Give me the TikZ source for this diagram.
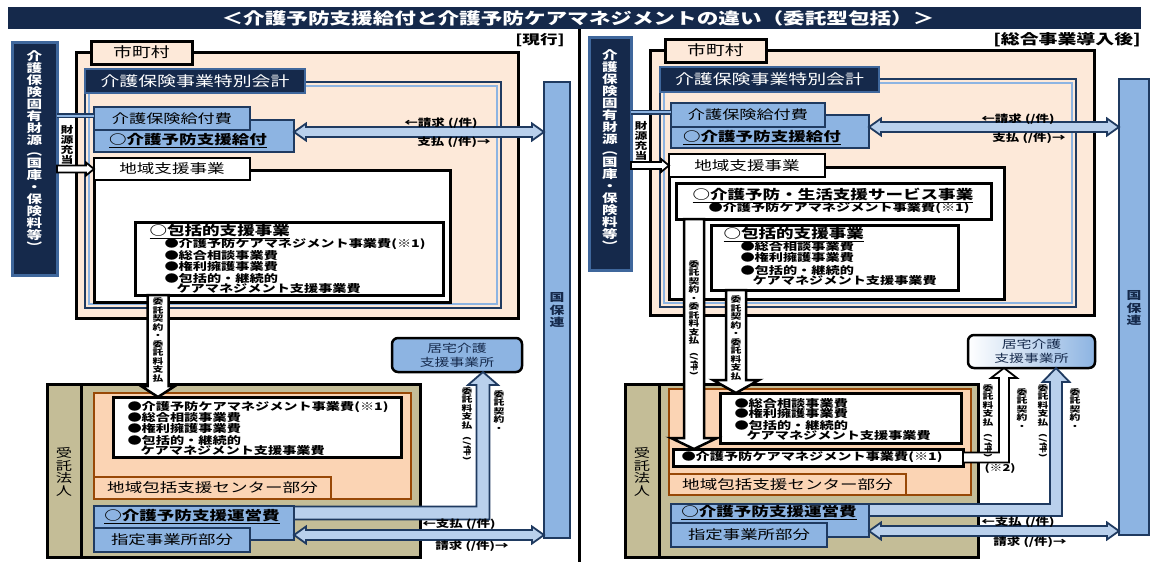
\documentclass[tikz,border=0pt]{standalone}
\usepackage{fontspec}
\setmainfont[FakeStretch=1.35]{Noto Sans CJK JP}
\usepackage{graphicx}
\usetikzlibrary{calc}
\definecolor{navy}{HTML}{15294B}
\definecolor{bnavy}{HTML}{1F3A60}
\definecolor{mblue}{HTML}{3F679C}
\definecolor{lblue}{HTML}{8DB4E2}
\definecolor{llblue}{HTML}{B9D0EC}
\definecolor{peach}{HTML}{FDE9D9}
\definecolor{tanc}{HTML}{C4BD97}
\definecolor{orB}{HTML}{984806}
\definecolor{orF}{HTML}{FBD4B4}
\newcommand\fs[1]{\fontsize{#1}{#1}\selectfont}
\newcommand\fv[2]{\fontsize{#1}{#2}\selectfont}
\newcommand\BX[7]{\node[#6, minimum width={#4-#2}, minimum height={#5-#3}] (#1) at ({(#2+#4)/2},{(#3+#5)/2}) {#7};}
% double-headed horizontal block arrow
\newcommand\myDbl[6]{\filldraw[#6] let \p1=(#1), \p2=(#2) in
 (\x1,\y1) -- (\x1+#5,\y1+#4) -- (\x1+#5,\y1+#3) -- (\x2-#5,\y1+#3) -- (\x2-#5,\y1+#4) -- (\x2,\y1)
 -- (\x2-#5,\y1-#4) -- (\x2-#5,\y1-#3) -- (\x1+#5,\y1-#3) -- (\x1+#5,\y1-#4) -- cycle;}
% single right block arrow
\newcommand\myH[6]{\filldraw[#6] let \p1=(#1), \p2=(#2) in
 (\x1,\y1+#3) -- (\x2-#5,\y1+#3) -- (\x2-#5,\y1+#4) -- (\x2,\y1) -- (\x2-#5,\y1-#4) -- (\x2-#5,\y1-#3) -- (\x1,\y1-#3) -- cycle;}
% down block arrow
\newcommand\myDown[6]{\filldraw[#6] let \p1=(#1), \p2=(#2) in
 (\x1-#3,\y1) -- (\x1-#3,\y2+#5) -- (\x1-#4,\y2+#5) -- (\x1,\y2) -- (\x1+#4,\y2+#5) -- (\x1+#3,\y2+#5) -- (\x1+#3,\y1) -- cycle;}
% elbow block arrow: right then up
\newcommand\myElbow[6]{\filldraw[#6] let \p1=(#1), \p2=(#2) in
 (\x1,\y1+#3) -- (\x2-#3,\y1+#3) -- (\x2-#3,\y2-#5) -- (\x2-#4,\y2-#5) -- (\x2,\y2) -- (\x2+#4,\y2-#5)
 -- (\x2+#3,\y2-#5) -- (\x2+#3,\y1-#3) -- (\x1,\y1-#3) -- cycle;}
\begin{document}
\begin{tikzpicture}[x=1pt,y=-1pt,
  bx/.style={inner sep=0pt, outer sep=0pt},
  frm/.style={bx, draw=black, line width=3pt},
  bluebox/.style={bx, draw=bnavy, fill=lblue, line width=2.5pt},
  navylab/.style={bx, fill=navy, draw=mblue, line width=2.5pt, text=white, font=\fs{14}},
  orbox/.style={bx, fill=orF, draw=orB, line width=2.5pt},
  arrowblue/.style={draw=bnavy, fill=llblue, line width=1.8pt, line join=miter},
  arrowblack/.style={draw=black, fill=white, line width=1.8pt, line join=miter},
  linkline/.style={draw=bnavy, double=lblue, double distance=2pt, line width=1.5pt},
  hdr/.style={anchor=west, font=\bfseries\fs{13}},
  bul/.style={anchor=west, font=\bfseries\fs{10.5}},
  vsm/.style={font=\bfseries\fv{8}{8.5}, align=center},
  lab/.style={font=\bfseries\fs{10}},
]
\useasboundingbox (0,0) rectangle (1152,562);
% ---------- title ----------
\BX{title}{8}{7}{1141}{29}{bx, fill=navy}{}
\node[font=\bfseries\fs{16}, text=white] (titletxt) at (578,18.5) {＜介護予防支援給付と介護予防ケアマネジメントの違い（委託型包括）＞};
\coordinate (divtop) at (579,29);
\coordinate (divbot) at (579,562);
\draw[line width=3pt] (divtop) -- (divbot);
\node[font=\bfseries\fs{13}] (genko) at (540,40) {[現行]};
\node[font=\bfseries\fs{14}] (dounyu) at (1067,40) {[総合事業導入後]};

% =================== LEFT ===================
\BX{shiL}{76}{52}{518}{318}{frm, fill=peach}{}
\BX{tokuL}{85}{82}{501}{308}{bx, draw=bnavy, line width=2.5pt}{}
\draw[lblue, line width=1.2pt] ([shift={(4pt,-4pt)}]tokuL.north west) rectangle ([shift={(-4pt,4pt)}]tokuL.south east);
\BX{tokulabL}{85}{69}{305}{93}{navylab}{介護保険事業特別会計}
\BX{shilabL}{91}{41}{192}{64}{frm, fill=peach, font=\fs{14}}{市町村}
\BX{chiikiL}{94}{170}{450}{302}{frm, fill=white}{}
\BX{chiikilabL}{94}{158}{250}{180}{frm, fill=white, line width=2.5pt, font=\fs{13}}{地域支援事業}
\BX{kyufuL}{94}{120}{294}{152}{bluebox}{}
\node[font=\bfseries\fs{13}] (kyufutxtL) at (188,141) {\underline{○介護予防支援給付}};
\BX{kyufuhiL}{94}{107}{250}{130}{bluebox, font=\fs{12.7}}{介護保険給付費}
\BX{hokatsuL}{135}{222}{443}{295}{frm, fill=white}{}
\node[hdr] (hkhL) at (146,232) {\underline{○包括的支援事業}};
\node[bul] (hkb1L) at (161,244) {●介護予防ケアマネジメント事業費(※1)};
\node[bul] (hkb2L) at (161,256) {●総合相談事業費};
\node[bul] (hkb3L) at (161,267) {●権利擁護事業費};
\node[bul] (hkb4L) at (161,278) {●包括的・継続的};
\node[bul] (hkb5L) at (173,289) {ケアマネジメント支援事業費};
\BX{kokuhoL}{544}{82}{570}{538}{bluebox}{}
\node[font=\bfseries\fv{11}{12.5}, align=center, text=navy] (kokuhotxtL) at (557,310) {国\\保\\連};
\BX{fundL}{12}{42}{57}{275}{bx, fill=navy, draw=mblue, line width=3pt}{}
\node[font=\bfseries\fv{11.5}{11.9}, align=center, text=white] (fundtxtL) at (34.5,151) {介\\護\\保\\険\\固\\有\\財\\源\\︵\\国\\庫\\・\\保\\険\\料\\等\\︶};
\node[font=\bfseries\fv{9.5}{10}, align=center] (zaigenL) at (67,145) {財\\源\\充\\当};

\BX{jutakuL}{47}{384}{420}{557}{frm, fill=tanc}{}
\draw[line width=3pt] ([xshift=34pt]jutakuL.north west) -- ([xshift=34pt]jutakuL.south west);
\node[font=\fv{12}{12.5}, align=center] (jutakutxtL) at (64,472) {受\\託\\法\\人};
\BX{centerL}{94}{393}{411}{499}{orbox}{}
\BX{centerlabL}{94}{477}{331}{499}{orbox, font=\fs{13}}{地域包括支援センター部分}
\BX{innerL}{113}{397}{401}{457}{frm, fill=white}{}
\node[bul] (inb1L) at (124,407) {●介護予防ケアマネジメント事業費(※1)};
\node[bul] (inb2L) at (124,418) {●総合相談事業費};
\node[bul] (inb3L) at (124,429) {●権利擁護事業費};
\node[bul] (inb4L) at (124,440) {●包括的・継続的};
\node[bul] (inb5L) at (137,451) {ケアマネジメント支援事業費};
\BX{uneiL}{94}{506}{294}{540}{bluebox}{}
\node[font=\bfseries\fs{13}] (uneitxtL) at (192,517) {\underline{○介護予防支援運営費}};
\BX{shiteiL}{94}{528}{250}{552}{bluebox, font=\fs{12.9}}{指定事業所部分}
\BX{kyotakuL}{392}{338}{522}{372}{bx, fill=lblue, draw=black, line width=2.5pt, rounded corners=6pt, align=center, font=\fv{11}{14}, text=navy}{居宅介護\\支援事業所}

% arrows left
\draw[linkline] ([yshift=3pt]kyufuhiL.west -| fundL.east) -- ([yshift=3pt]kyufuhiL.west);
\myH{chiikilabL.west -| fundL.east}{chiikilabL.west}{3.5pt}{6.5pt}{8pt}{arrowblack}
\myDbl{[yshift=4pt]kyufuL.east}{kokuhoL.west}{5pt}{8.5pt}{12pt}{arrowblue}
\myDown{[xshift=23pt]hokatsuL.south west}{innerL.north}{10.5pt}{17pt}{11pt}{arrowblack, line width=2.5pt}
\myElbow{[yshift=10pt]uneiL.east}{[xshift=26pt]kyotakuL.south}{6.5pt}{15pt}{13pt}{arrowblue}
\myDbl{[yshift=-12pt]uneiL.east}{kokuhoL.west}{5pt}{8.5pt}{12pt}{arrowblue}
\node[vsm] (itakuL) at (158,340) {委\\託\\契\\約\\・\\委\\託\\料\\支\\払};
\node[vsm] (ryokinL) at (467,424) {委\\託\\料\\支\\払\\\rotatebox{-90}{(/件)}};
\node[vsm] (keiyakuL) at (499,411) {委\\託\\契\\約\\・};
\node[lab] (seikyuL) at (441,123) {←請求 (/件)};
\node[lab] (shiharaiL) at (454,142) {支払 (/件)→};
\node[lab] (shiharai2L) at (459,524) {←支払 (/件)};
\node[lab] (seikyu2L) at (472,546) {請求 (/件)→};

% =================== RIGHT ===================
\BX{shiR}{650}{50}{1094}{315}{frm, fill=peach}{}
\BX{tokuR}{660}{79}{1076}{307}{bx, draw=bnavy, line width=2.5pt}{}
\draw[lblue, line width=1.2pt] ([shift={(4pt,-4pt)}]tokuR.north west) rectangle ([shift={(-4pt,4pt)}]tokuR.south east);
\BX{tokulabR}{660}{67}{879}{92}{navylab}{介護保険事業特別会計}
\BX{shilabR}{665}{39}{766}{62}{frm, fill=peach, font=\fs{14}}{市町村}
\BX{chiikiR}{669}{167}{1004}{299}{frm, fill=white}{}
\BX{chiikilabR}{669}{154}{825}{177}{frm, fill=white, line width=2.5pt, font=\fs{13}}{地域支援事業}
\BX{kyufuR}{671}{115}{869}{148}{bluebox}{}
\node[font=\bfseries\fs{13}] (kyufutxtR) at (762,138) {\underline{○介護予防支援給付}};
\BX{kyufuhiR}{671}{103}{825}{127}{bluebox, font=\fs{12.7}}{介護保険給付費}
\BX{serviceR}{676}{183}{991}{219}{frm, fill=white}{}
\node[hdr] (svhR) at (689,195) {\underline{○介護予防・生活支援サービス事業}};
\node[bul] (svb1R) at (705,208) {●介護予防ケアマネジメント事業費(※1)};
\BX{hokatsuR}{711}{225}{958}{290}{frm, fill=white}{}
\node[hdr] (hkhR) at (720,235) {\underline{○包括的支援事業}};
\node[bul] (hkb1R) at (737,247) {●総合相談事業費};
\node[bul] (hkb2R) at (737,258) {●権利擁護事業費};
\node[bul] (hkb3R) at (737,270) {●包括的・継続的};
\node[bul] (hkb4R) at (749,281) {ケアマネジメント支援事業費};
\BX{kokuhoR}{1119}{79}{1149}{535}{bluebox}{}
\node[font=\bfseries\fv{11}{12.5}, align=center, text=navy] (kokuhotxtR) at (1134,308) {国\\保\\連};
\BX{fundR}{589}{37}{631}{270}{bx, fill=navy, draw=mblue, line width=3pt}{}
\node[font=\bfseries\fv{11.5}{11.9}, align=center, text=white] (fundtxtR) at (610,150) {介\\護\\保\\険\\固\\有\\財\\源\\︵\\国\\庫\\・\\保\\険\\料\\等\\︶};
\node[font=\bfseries\fv{9.5}{10}, align=center] (zaigenR) at (641,141) {財\\源\\充\\当};

\BX{jutakuR}{625}{384}{978}{557}{frm, fill=tanc}{}
\draw[line width=3pt] ([xshift=34pt]jutakuR.north west) -- ([xshift=34pt]jutakuR.south west);
\node[font=\fv{12}{12.5}, align=center] (jutakutxtR) at (642,472) {受\\託\\法\\人};
\BX{centerR}{669}{389}{971}{495}{orbox}{}
\BX{centerlabR}{669}{474}{906}{495}{orbox, font=\fs{13}}{地域包括支援センター部分}
\BX{innerR}{720}{393}{961}{443}{frm, fill=white}{}
\node[bul] (inb1R) at (731,404) {●総合相談事業費};
\node[bul] (inb2R) at (731,414) {●権利擁護事業費};
\node[bul] (inb3R) at (731,425) {●包括的・継続的};
\node[bul] (inb4R) at (743,436) {ケアマネジメント支援事業費};
\BX{kmR}{673}{449}{963}{466}{frm, fill=white}{}
\node[bul] (kmtxtR) at (678,457.5) {●介護予防ケアマネジメント事業費(※1)};
\BX{uneiR}{671}{504}{869}{537}{bluebox}{}
\node[font=\bfseries\fs{13}] (uneitxtR) at (769,513) {\underline{○介護予防支援運営費}};
\BX{shiteiR}{671}{523}{827}{547}{bluebox, font=\fs{12.9}}{指定事業所部分}
\BX{kyotakuR}{968}{335}{1095}{368}{bx, left color=white, right color=lblue, draw=black, line width=2.5pt, rounded corners=6pt, align=center, font=\fv{11}{14}, text=navy}{居宅介護\\支援事業所}

% arrows right
\draw[linkline] ([yshift=3pt]kyufuhiR.west -| fundR.east) -- ([yshift=3pt]kyufuhiR.west);
\myH{chiikilabR.west -| fundR.east}{chiikilabR.west}{3.5pt}{6.5pt}{8pt}{arrowblack}
\myDbl{[yshift=4.5pt]kyufuR.east}{kokuhoR.west}{5pt}{8.5pt}{12pt}{arrowblue}
\myDown{[xshift=18pt]serviceR.south west}{kmR.north}{10pt}{23pt}{11pt}{arrowblack, line width=2.5pt}
\myDown{[xshift=25pt]hokatsuR.south west}{innerR.north}{10pt}{23pt}{13pt}{arrowblack, line width=2.5pt}
\myElbow{kmR.east}{[xshift=-27.5pt]kyotakuR.south}{5pt}{13pt}{10pt}{arrowblack}
\myElbow{[yshift=10.5pt]uneiR.east}{[xshift=24.5pt]kyotakuR.south}{6pt}{13.5pt}{14pt}{arrowblue}
\myDbl{[yshift=-10.5pt]uneiR.east}{kokuhoR.west}{5pt}{8.5pt}{12pt}{arrowblue}
\node[vsm] (itakuAR) at (694,318) {委\\託\\契\\約\\・\\委\\託\\料\\支\\払\\\rotatebox{-90}{(/件)}};
\node[vsm] (itakuBR) at (736,338) {委\\託\\契\\約\\・\\委\\託\\料\\支\\払};
\node[vsm] (ryokin1R) at (988,421) {委\\託\\料\\支\\払\\\rotatebox{-90}{(/件)}};
\node[vsm] (keiyaku1R) at (1022,409) {委\\託\\契\\約\\・};
\node[vsm] (ryokin2R) at (1043,421) {委\\託\\料\\支\\払\\\rotatebox{-90}{(/件)}};
\node[vsm] (keiyaku2R) at (1075,409) {委\\託\\契\\約\\・};
\node[font=\bfseries\fs{9.5}] (kome2R) at (1000,468) {(※2)};
\node[lab] (seikyuR) at (1018,119) {←請求 (/件)};
\node[lab] (shiharaiR) at (1029,138) {支払 (/件)→};
\node[lab] (shiharai2R) at (1018,522) {←支払 (/件)};
\node[lab] (seikyu2R) at (1030,542) {請求 (/件)→};
\end{tikzpicture}
\end{document}
